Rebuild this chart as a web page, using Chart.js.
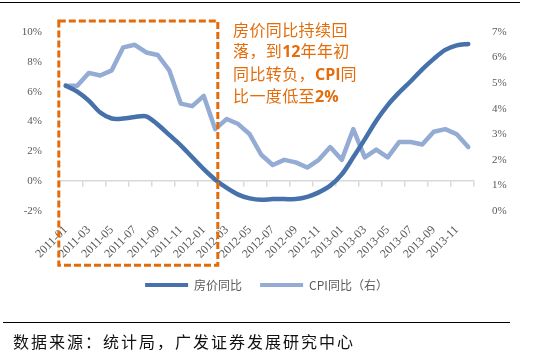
<!DOCTYPE html>
<html><head><meta charset="utf-8">
<script src="https://cdn.jsdelivr.net/npm/chart.js@4.4.1/dist/chart.umd.min.js"></script>
<style>
html,body{margin:0;padding:0;background:#fff;}
#wrap{position:relative;width:533px;height:355px;overflow:hidden;background:#fff;}
#c{position:absolute;left:0;top:0;}
.topline{position:absolute;left:0;top:2px;width:520px;height:1px;background:#000;}
.botline{position:absolute;left:3px;top:322px;width:507px;height:1px;background:#000;}
.src{position:absolute;left:13px;top:330px;font-family:"Noto Sans CJK SC";font-size:16px;line-height:22px;letter-spacing:2px;color:#111;white-space:nowrap;}
.note{position:absolute;left:233px;top:19px;font-family:"Noto Sans CJK SC";font-size:16px;line-height:21.4px;color:#E46C0A;white-space:nowrap;letter-spacing:0.4px;}
.note b{font-family:"Open Sans","Noto Sans";font-weight:700;letter-spacing:0;}
svg{position:absolute;left:0;top:0;}
</style></head><body>
<div id="wrap">
<canvas id="c" width="533" height="301"></canvas>
<div class="topline"></div>
<svg width="533" height="355"><rect x="58.8" y="21" width="159" height="244.2" fill="none" stroke="#E36C09" stroke-width="3" stroke-dasharray="7 3"/></svg>
<div class="note">房价同比持续回<br>落，到<b>12</b>年年初<br>同比转负，<b>CPI</b>同<br>比一度低至<b>2%</b></div>
<div class="botline"></div>
<div class="src">数据来源：统计局，广发证券发展研究中心</div>
</div>
<script>
const months = [
  '2011-01','2011-02','2011-03','2011-04','2011-05','2011-06','2011-07','2011-08','2011-09','2011-10','2011-11','2011-12',
  '2012-01','2012-02','2012-03','2012-04','2012-05','2012-06','2012-07','2012-08','2012-09','2012-10','2012-11','2012-12',
  '2013-01','2013-02','2013-03','2013-04','2013-05','2013-06','2013-07','2013-08','2013-09','2013-10','2013-11','2013-12'
];
const housePriceYoY = [6.4, 6.0, 5.4, 4.6, 4.2, 4.2, 4.3, 4.35, 3.8, 3.1, 2.4, 1.6,
  0.8, 0.1, -0.45, -0.9, -1.15, -1.25, -1.2, -1.2, -1.2, -1.05, -0.75, -0.3,
  0.45, 1.6, 2.8, 4.05, 5.1, 5.95, 6.7, 7.5, 8.2, 8.8, 9.1, 9.2];
const cpiYoY = [4.9, 4.9, 5.4, 5.3, 5.5, 6.4, 6.5, 6.2, 6.1, 5.5, 4.2, 4.1,
  4.5, 3.2, 3.6, 3.4, 3.0, 2.2, 1.8, 2.0, 1.9, 1.7, 2.0, 2.5,
  2.0, 3.2, 2.1, 2.4, 2.1, 2.7, 2.7, 2.6, 3.1, 3.2, 3.0, 2.5];
const leftTicks = [-2, 0, 2, 4, 6, 8, 10];
const rightTicks = [0, 1, 2, 3, 4, 5, 6, 7];
const seriesNames = ['房价同比', 'CPI同比（右）'];

const tickFont = {family: 'Liberation Serif', size: 11};
const gray = '#595959';

new Chart(document.getElementById('c'), {
  type: 'line',
  data: {
    labels: months,
    datasets: [
      {label: seriesNames[0], data: housePriceYoY, yAxisID: 'y', xAxisID: 'x',
       borderColor: '#4671aa', backgroundColor: '#4671aa', borderWidth: 4.5,
       pointRadius: 0, tension: 0.3, borderCapStyle: 'round', borderJoinStyle: 'round'},
      {label: seriesNames[1], data: cpiYoY, yAxisID: 'y1', xAxisID: 'x',
       borderColor: '#94abd4', backgroundColor: '#94abd4', borderWidth: 4.5,
       pointRadius: 0, tension: 0, borderCapStyle: 'round', borderJoinStyle: 'round'}
    ]
  },
  options: {
    responsive: false,
    animation: false,
    devicePixelRatio: 1,
    layout: {padding: {top: 32, left: 0, right: 0, bottom: 0}},
    plugins: {
      tooltip: {enabled: false},
      legend: {
        position: 'bottom',
        labels: {
          boxWidth: 43, boxHeight: 4, padding: 18, color: gray,
          font: {family: 'Noto Sans CJK SC', size: 12},
          generateLabels: (chart) => {
            const items = Chart.defaults.plugins.legend.labels.generateLabels(chart);
            items.forEach(it => { const ds = chart.data.datasets[it.datasetIndex];
              it.fillStyle = ds.borderColor; it.strokeStyle = ds.borderColor; it.lineWidth = 0; });
            return items;
          }
        }
      }
    },
    scales: {
      x: {
        type: 'category', position: 'bottom', offset: true,
        grid: {display: false}, border: {display: false},
        ticks: {autoSkip: false, maxRotation: 45, minRotation: 45, padding: 4, color: gray,
          font: {family: 'Liberation Serif', size: 12},
          callback: (v, i) => (i % 2 === 0 ? months[i] : '')},
        afterFit: s => { s.height = 50; }
      },
      x2: {
        type: 'category', position: {y: 0}, offset: true,
        border: {display: true, color: '#d9d9d9', width: 1.5},
        grid: {display: true, offset: true, drawOnChartArea: false, drawTicks: true, tickLength: 5, lineWidth: 1.5,
          color: ctx => (ctx.index === undefined || ctx.index % 2 === 0) ? '#d9d9d9' : 'rgba(0,0,0,0)'},
        ticks: {display: false}
      },
      y: {
        position: 'left', min: -2, max: 10,
        grid: {display: false}, border: {display: false},
        afterBuildTicks: s => { s.ticks = leftTicks.map(v => ({value: v})); },
        ticks: {padding: 10, color: gray, font: tickFont, callback: v => v + '%'},
        afterFit: s => { s.width = 60; }
      },
      y1: {
        position: 'right', min: 0, max: 7,
        grid: {display: false}, border: {display: false},
        afterBuildTicks: s => { s.ticks = rightTicks.map(v => ({value: v})); },
        ticks: {padding: 10, color: gray, font: tickFont, callback: v => v + '%'},
        afterFit: s => { s.width = 59; }
      }
    }
  }
});
</script>
</body></html>
